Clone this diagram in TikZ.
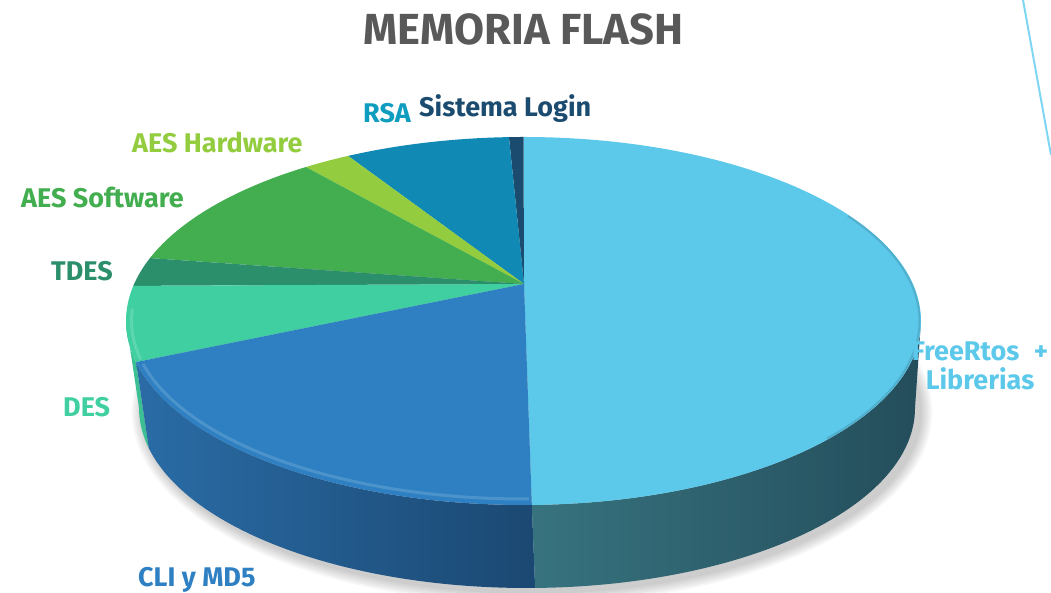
\documentclass[tikz,border=0pt]{standalone}
\usepackage{fontspec}
\setmainfont{Fira Sans}
\usetikzlibrary{calc}

\definecolor{titlegray}{HTML}{595959}
\definecolor{freertos}{HTML}{5CC8EA}
\definecolor{cli}{HTML}{2E80C2}
\definecolor{des}{HTML}{40CFA0}
\definecolor{tdes}{HTML}{2B8F6B}
\definecolor{aessw}{HTML}{42AE4F}
\definecolor{aeshw}{HTML}{93CD3F}
\definecolor{rsa}{HTML}{108AB4}
\definecolor{login}{HTML}{1B4C70}
\definecolor{accent}{HTML}{7FD6F2}
\definecolor{clisideA}{HTML}{2A6CA6}
\definecolor{clisideB}{HTML}{1B4872}
\definecolor{frsideA}{HTML}{37737F}
\definecolor{frsideB}{HTML}{244D5B}
\definecolor{dessideA}{HTML}{3BBF93}

% radii of the top face and of the bottom rim
\def\pieRx{397.5pt}
\def\pieRy{184pt}
\def\baseRx{388pt}
\def\baseRy{180pt}

% one wedge of the top face, between parametric angles #2 and #3
\newcommand\wedgetop[3]{%
  \fill[#1] (apex) -- ([shift={(topc)}]#2:\pieRx\space and \pieRy)
    arc[start angle=#2, end angle=#3, x radius=\pieRx, y radius=\pieRy] -- cycle;}
% one strip of the rim, between parametric angles #2 and #3
\newcommand\wedgeside[3]{%
  \path[#1] ([shift={(topc)}]#2:\pieRx\space and \pieRy)
    arc[start angle=#2, end angle=#3, x radius=\pieRx, y radius=\pieRy]
    -- ([shift={(basec)}]#3:\baseRx\space and \baseRy)
    arc[start angle=#3, end angle=#2, x radius=\baseRx, y radius=\baseRy] -- cycle;}

\tikzset{
  lbl/.style={font=\bfseries\fontsize{27}{30}\selectfont, inner sep=0pt, anchor=base west},
}

\begin{document}
\begin{tikzpicture}[x=1pt, y=1pt]
\useasboundingbox (0,0) rectangle (1051,593);

\coordinate (topc) at (523.5,272);
\coordinate (basec) at (527,185);
\coordinate (apex) at (524,309);

% soft shadow under the disc
\foreach \k in {1,...,6}{
  \fill[black, opacity=0.035] ($(basec)+(5,-4)$) ellipse[x radius=388+2*\k, y radius=180+2*\k];
}

% rim
\wedgeside{fill=dessideA}{180}{192.9}
\wedgeside{left color=clisideA, right color=clisideB}{192.9}{271.2}
\wedgeside{left color=frsideA, middle color=frsideB, right color=frsideB}{271.2}{360}

% top face wedges
\wedgetop{freertos}{-88.8}{90}
\wedgetop{login}{90}{92.1}
\wedgetop{rsa}{92.1}{116.2}
\wedgetop{aeshw}{116.2}{123.2}
\wedgetop{aessw}{123.2}{160}
\wedgetop{tdes}{160}{169}
\wedgetop{des}{169}{192.9}
\wedgetop{cli}{192.9}{271.2}

% bevel light along the front edge of the top face
\draw[cli!75!white, line width=3pt, opacity=0.6]
  ([shift={(topc)}]194:392pt and 178pt) arc[start angle=194, end angle=270.8, x radius=392pt, y radius=178pt];
\draw[des!75!white, line width=3pt, opacity=0.6]
  ([shift={(topc)}]176:392pt and 178pt) arc[start angle=176, end angle=192.5, x radius=392pt, y radius=178pt];
\draw[freertos!65!black, line width=2pt, opacity=0.35]
  ([shift={(topc)}]-40:396pt and 183pt) arc[start angle=-40, end angle=35, x radius=396pt, y radius=183pt];

% title
\node[font=\bfseries\fontsize{43.5}{48}\selectfont, text=titlegray, inner sep=0pt, anchor=base]
  (title) at (523.5,548) {MEMORIA FLASH};

% slice labels
\node[lbl, text=rsa!85!cyan] (lrsa) at (363,470) {RSA};
\node[lbl, text=login] (llogin) at (419,476) {Sistema Login};
\node[lbl, text=aeshw] (laeshw) at (132,440) {AES Hardware};
\node[lbl, text=aessw] (laessw) at (21,385) {AES Software};
\node[lbl, text=tdes] (ltdes) at (51,312) {TDES};
\node[lbl, text=des] (ldes) at (63,176) {DES};
\node[lbl, text=cli] (lcli) at (138,6) {CLI y MD5};
\node[font=\bfseries\fontsize{27}{29}\selectfont, text=freertos, inner sep=0pt, align=center, anchor=base]
  (lfree) at (980,203) {FreeRtos\hspace{0.3em} +\\Librerias};

% decorative accent line in the corner
\coordinate (accA) at (1023,593);
\coordinate (accB) at (1051,438);
\draw[accent, line width=2pt] (accA) -- (accB);
\end{tikzpicture}
\end{document}
